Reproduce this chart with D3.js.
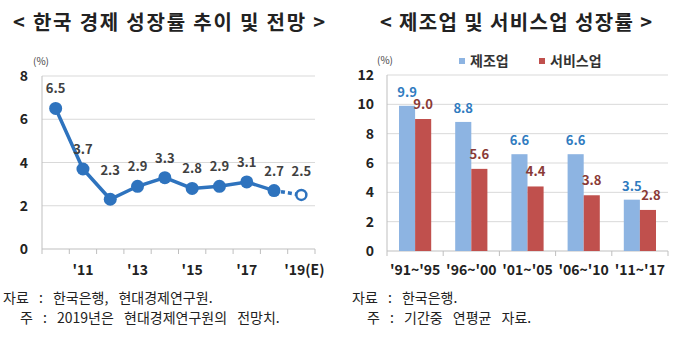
<!DOCTYPE html>
<html><head><meta charset="utf-8">
<script src="https://cdn.jsdelivr.net/npm/d3@7"></script>
<style>
body{margin:0;background:#fff;}
svg{display:block;font-family:"Noto Sans CJK KR","Noto Sans",sans-serif;}
</style></head>
<body>
<svg id="c" width="680" height="343"></svg>
<script>
// Left chart data
const years = ["2010","2011","2012","2013","2014","2015","2016","2017","2018","2019"];
const growth = [6.5, 3.7, 2.3, 2.9, 3.3, 2.8, 2.9, 3.1, 2.7, 2.5];
const yearLabels = {"2011":"'11","2013":"'13","2015":"'15","2017":"'17","2019":"'19(E)"};
const leftTicks = [0,2,4,6,8];
// Right chart data
const periods = ["'91~'95","'96~'00","'01~'05","'06~'10","'11~'17"];
const manufacturing = [9.9, 8.8, 6.6, 6.6, 3.5];
const services = [9.0, 5.6, 4.4, 3.8, 2.8];
const seriesNames = ["제조업","서비스업"];
const rightTicks = [0,2,4,6,8,10,12];

const svg = d3.select("#c");
const grid = "#d9d9d9", axisC = "#bfbfbf";

// Titles
svg.append("text").attr("x",13).attr("y",30)
  .attr("font-size",20).attr("font-weight","bold").attr("fill","#222")
  .attr("textLength",312).attr("lengthAdjust","spacing")
  .text("< 한국 경제 성장률 추이 및 전망 >");
svg.append("text").attr("x",380).attr("y",30)
  .attr("font-size",20).attr("font-weight","bold").attr("fill","#222")
  .attr("textLength",272).attr("lengthAdjust","spacing")
  .text("< 제조업 및 서비스업 성장률 >");

// ---------- Left line chart ----------
const L = {x0:42, x1:315, y0:249, y1:76};
const xl = d3.scaleBand().domain(years).range([L.x0,L.x1]);
const yl = d3.scaleLinear().domain([0,8]).range([L.y0,L.y1]);
const gl = svg.append("g");
gl.selectAll("line.g").data(leftTicks.filter(d=>d>0)).join("line")
  .attr("x1",L.x0).attr("x2",L.x1).attr("y1",d=>yl(d)).attr("y2",d=>yl(d))
  .attr("stroke",grid).attr("stroke-width",1);
gl.append("line").attr("x1",L.x0).attr("x2",L.x0).attr("y1",yl(8)).attr("y2",yl(0)).attr("stroke",axisC);
gl.append("line").attr("x1",L.x0).attr("x2",L.x1).attr("y1",yl(0)).attr("y2",yl(0)).attr("stroke",axisC);
const lb = years.map(d=>xl(d)).concat([L.x1]);
gl.selectAll("line.t").data(lb).join("line")
  .attr("x1",d=>d).attr("x2",d=>d).attr("y1",yl(0)).attr("y2",yl(0)+5).attr("stroke",axisC);
gl.selectAll("text.yt").data(leftTicks).join("text")
  .attr("x",28).attr("y",d=>yl(d)+5).attr("text-anchor","end")
  .attr("font-size",14).attr("font-weight","bold").attr("fill","#222").text(d=>d);
gl.append("text").attr("x",41).attr("y",65).attr("text-anchor","middle")
  .attr("font-size",10).attr("fill","#444").text("(%)");
gl.selectAll("text.xt").data(years.filter(d=>yearLabels[d])).join("text")
  .attr("x",d=>xl(d)+xl.bandwidth()/2 + (d==="2019"?3:0)).attr("y",275).attr("text-anchor","middle")
  .attr("font-size",14).attr("font-weight","bold").attr("fill","#222").text(d=>yearLabels[d]);
const blue = "#2e73be";
const pts = years.map((d,i)=>({x:xl(d)+xl.bandwidth()/2, y:yl(growth[i]), v:growth[i], i}));
const line = d3.line().x(d=>d.x).y(d=>d.y);
gl.append("path").attr("d",line(pts.slice(0,9))).attr("fill","none").attr("stroke",blue).attr("stroke-width",3.5);
gl.append("path").attr("d",line(pts.slice(8))).attr("fill","none").attr("stroke",blue).attr("stroke-width",3.5).attr("stroke-dasharray","4,3");
gl.selectAll("circle").data(pts).join("circle")
  .attr("cx",d=>d.x).attr("cy",d=>d.y).attr("r",d=>d.i===9?5:6.5)
  .attr("fill",d=>d.i===9?"#fff":blue).attr("stroke",blue).attr("stroke-width",d=>d.i===9?2.5:0);
gl.selectAll("text.dl").data(pts).join("text")
  .attr("x",d=>d.x).attr("y",d=>d.y-(d.i===2?24:d.i===9?19:15)).attr("text-anchor","middle")
  .attr("font-size",13).attr("font-weight","bold").attr("fill","#404040").text(d=>d.v.toFixed(1));

// ---------- Right bar chart ----------
const R = {x0:387, x1:668, y0:251, y1:75};
const xr = d3.scaleBand().domain(periods).range([R.x0,R.x1]);
const yr = d3.scaleLinear().domain([0,12]).range([R.y0,R.y1]);
const xs = d3.scaleBand().domain([0,1]).range([12, xr.bandwidth()-12]);
const gr = svg.append("g");
gr.selectAll("line.g").data(rightTicks.filter(d=>d>0)).join("line")
  .attr("x1",R.x0).attr("x2",R.x1).attr("y1",d=>yr(d)).attr("y2",d=>yr(d))
  .attr("stroke",grid);
gr.append("line").attr("x1",R.x0).attr("x2",R.x0).attr("y1",yr(12)).attr("y2",yr(0)).attr("stroke",axisC);
gr.append("line").attr("x1",R.x0).attr("x2",R.x1).attr("y1",yr(0)).attr("y2",yr(0)).attr("stroke",axisC);
const rb = periods.map(d=>xr(d)).concat([R.x1]);
gr.selectAll("line.t").data(rb).join("line")
  .attr("x1",d=>d).attr("x2",d=>d).attr("y1",yr(0)).attr("y2",yr(0)+5).attr("stroke",axisC);
gr.selectAll("text.yt").data(rightTicks).join("text")
  .attr("x",374).attr("y",d=>yr(d)+5).attr("text-anchor","end")
  .attr("font-size",14).attr("font-weight","bold").attr("fill","#222").text(d=>d);
gr.append("text").attr("x",385).attr("y",64).attr("text-anchor","middle")
  .attr("font-size",10).attr("fill","#444").text("(%)");
gr.selectAll("text.xt").data(periods).join("text")
  .attr("x",d=>xr(d)+xr.bandwidth()/2).attr("y",275).attr("text-anchor","middle")
  .attr("font-size",14).attr("font-weight","bold").attr("fill","#222").text(d=>d);
const colors = ["#8db4e2","#c0504d"];
const labelColors = ["#2f7bbf","#8a3a36"];
const series = [manufacturing, services];
series.forEach((vals,s)=>{
  gr.selectAll("rect.s"+s).data(vals).join("rect")
    .attr("x",(d,i)=>xr(periods[i])+xs(s)).attr("width",xs.bandwidth())
    .attr("y",d=>yr(d)).attr("height",d=>yr(0)-yr(d)).attr("fill",colors[s]);
  gr.selectAll("text.l"+s).data(vals).join("text")
    .attr("x",(d,i)=>xr(periods[i])+xs(s)+xs.bandwidth()/2 + (s===1&&i===4?3:0))
    .attr("y",d=>yr(d)-(s===1?10:9)).attr("text-anchor","middle")
    .attr("font-size",13).attr("font-weight","bold").attr("fill",labelColors[s]).text(d=>d.toFixed(1));
});
// legend
const lg = gr.append("g");
const legX = [459, 539];
seriesNames.forEach((n,s)=>{
  lg.append("rect").attr("x",legX[s]).attr("y",58).attr("width",6).attr("height",6).attr("fill",colors[s]);
  lg.append("text").attr("x",legX[s]+11).attr("y",66).attr("font-size",14).attr("font-weight","bold")
    .attr("fill","#333").text(n);
});

// Footnotes
const notes = svg.append("g").attr("font-size",14).attr("fill","#222").attr("word-spacing",7);
notes.append("text").attr("x",3).attr("y",303).text("자료 : 한국은행, 현대경제연구원.");
notes.append("text").attr("x",20).attr("y",323).text("주 : 2019년은 현대경제연구원의 전망치.");
notes.append("text").attr("x",352).attr("y",303).text("자료 : 한국은행.");
notes.append("text").attr("x",367).attr("y",323).text("주 : 기간중 연평균 자료.");
</script>
</body></html>
